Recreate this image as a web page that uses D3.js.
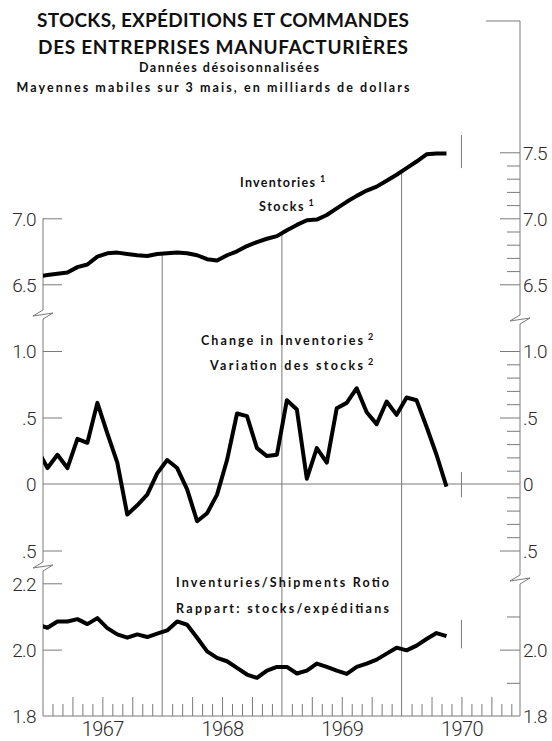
<!DOCTYPE html>
<html><head><meta charset="utf-8">
<script src="https://cdn.jsdelivr.net/npm/d3@7"></script>
<style>
html,body{margin:0;padding:0;background:#fff;}
svg{display:block;}
.tl{font-family:Roboto,"DejaVu Sans Condensed",sans-serif;font-weight:300;font-size:19px;letter-spacing:-0.6px;fill:#2a2a2a;}
.ttl{font-family:Lato,"DejaVu Sans",sans-serif;font-weight:700;fill:#111;}
</style></head>
<body>
<script>
// ---------------- DATA ----------------
const firstMonth = "1966-12";            // first plotted month (clipped at the left axis)
const lastMonth  = "1970-05";
const inventories = [6.56, 6.57, 6.58, 6.59, 6.63, 6.65, 6.71, 6.735, 6.74, 6.73, 6.72, 6.715, 6.73, 6.735, 6.74, 6.735, 6.72, 6.69, 6.68, 6.72, 6.75, 6.79, 6.82, 6.845, 6.865, 6.91, 6.95, 6.985, 6.99, 7.025, 7.075, 7.125, 7.17, 7.21, 7.24, 7.285, 7.33, 7.38, 7.43, 7.485, 7.49, 7.49];
const changeInInventories = [0.26, 0.12, 0.22, 0.12, 0.34, 0.31, 0.61, 0.38, 0.16, -0.23, -0.16, -0.08, 0.08, 0.18, 0.12, -0.04, -0.28, -0.22, -0.08, 0.18, 0.53, 0.51, 0.27, 0.21, 0.22, 0.63, 0.56, 0.04, 0.27, 0.16, 0.57, 0.61, 0.72, 0.54, 0.45, 0.62, 0.52, 0.65, 0.63, 0.43, 0.22, -0.02];
const shipmentsRatio = [2.075, 2.066, 2.085, 2.085, 2.092, 2.077, 2.095, 2.065, 2.046, 2.036, 2.046, 2.038, 2.048, 2.058, 2.085, 2.075, 2.036, 1.995, 1.975, 1.965, 1.945, 1.925, 1.915, 1.937, 1.948, 1.948, 1.928, 1.937, 1.958, 1.948, 1.937, 1.927, 1.948, 1.958, 1.970, 1.988, 2.006, 1.998, 2.012, 2.032, 2.05, 2.041];
const years = [1967, 1968, 1969, 1970];
const invLeftTicks = [6.5, 7.0];
const invRightMajor = [6.5, 7.0, 7.5];
const invRightMinor = [6.6, 6.7, 6.8, 6.9, 7.1, 7.2, 7.3, 7.4];
const chgLeftTicks = [-0.5, 0.5, 1.0];
const chgZeroLabel = [0];
const chgRightMajor = [-0.5, 0.5, 1.0];
const chgRightMinor = [-0.4, -0.3, -0.2, -0.1, 0.1, 0.2, 0.3, 0.4, 0.6, 0.7, 0.8, 0.9];
const ratLeftTicks = [2.0, 2.2];
const ratRightMajor = [2.0];
const ratRightMinor = [1.9, 2.1];
const ratBottomLabel = [1.8];
const markerMonth = "1970-07";
const markerRanges = [[7.38, 7.63], [-0.1, 0.09], [2.004, 2.09]];
const titleLines = ["STOCKS, EXPÉDITIONS ET COMMANDES", "DES ENTREPRISES MANUFACTURIÈRES"];
const subtitleLines = ["Dannées désoisonnalisées", "Mayennes mabiles sur 3 mais, en milliards de dollars"];
const seriesLabels = [
  ["Inventories", "1", "Stocks", "1"],
  ["Change in Inventories", "2", "Variation des stocks", "2"],
  ["Inventuries/Shipments Rotio", "", "Rappart: stocks/expéditians", ""]
];

// ---------------- LAYOUT ----------------
const W = 552, H = 741;
const parseM = d3.timeParse("%Y-%m");
const monthIdx = d => (d.getFullYear() - 1967) * 12 + d.getMonth();
const months = d3.timeMonth.range(parseM(firstMonth), d3.timeMonth.offset(parseM(lastMonth), 1));
const xL = 43, xR = 520, yBottom = 716;
const x = d3.scaleLinear().domain([0, 48]).range([42.5, 521.3]);
const yInv = d3.scaleLinear().domain([6.5, 7.0]).range([284.3, 218.3]);
const yChg = d3.scaleLinear().domain([0, 1.0]).range([484, 351]);
const yRat = d3.scaleLinear().domain([1.8, 2.2]).range([716, 583.3]);

const svg = d3.select("body").append("svg").attr("width", W).attr("height", H);
svg.append("rect").attr("width", W).attr("height", H).attr("fill", "#fff");
svg.append("defs").append("clipPath").attr("id", "plotclip")
  .append("rect").attr("x", xL).attr("y", 0).attr("width", xR - xL).attr("height", H);

const axisColor = "#7a7a7a";

// Titles
const tl = svg.append("g");
[[titleLines[0], 27, 19, 372], [titleLines[1], 54, 19, 370]].forEach(([t, yy, fs, w]) => {
  tl.append("text").attr("class", "ttl").attr("x", 223).attr("y", yy).attr("text-anchor", "middle")
    .attr("font-size", fs).attr("textLength", w).attr("lengthAdjust", "spacing").text(t);
});
[[subtitleLines[0], 72, 12.5, 180, 229], [subtitleLines[1], 92, 12.5, 393, 213]].forEach(([t, yy, fs, w, cx]) => {
  tl.append("text").attr("class", "ttl").attr("x", cx).attr("y", yy).attr("text-anchor", "middle")
    .attr("font-size", fs).attr("textLength", w).attr("lengthAdjust", "spacing").text(t);
});

// Gridlines (from inventory curve down to bottom axis)
const invAt = d3.scaleLinear().domain(months.map(m => monthIdx(m) + 0.5)).range(inventories);
const grid = svg.append("g").attr("stroke", axisColor).attr("stroke-width", 1);
years.slice(1).forEach(yr => {
  const m = (yr - 1967) * 12;
  grid.append("line").attr("x1", x(m)).attr("x2", x(m)).attr("y1", yInv(invAt(m))).attr("y2", yBottom);
});
// zero line
grid.append("line").attr("x1", xL).attr("x2", xR).attr("y1", yChg(0)).attr("y2", yChg(0));
// bottom axis line
grid.append("line").attr("x1", xL).attr("x2", xR).attr("y1", yBottom).attr("y2", yBottom);

// Axis lines with breaks
function brk(ax, c, dir) {
  return `L${ax},${c - 5} L${ax - 10 * dir},${c + 1} L${ax + 10 * dir},${c - 2} L${ax},${c + 4}`;
}
svg.append("path").attr("fill", "none").attr("stroke", axisColor).attr("stroke-width", 1)
  .attr("d", `M${xL},${yInv(7.0)} ${brk(xL, 315, 1)} ${brk(xL, 567, 1)} L${xL},${yBottom}`);
svg.append("path").attr("fill", "none").attr("stroke", axisColor).attr("stroke-width", 1)
  .attr("d", `M486,21 L${xR},21 ${brk(xR, 320, 1)} ${brk(xR, 580, 1)} L${xR},${yBottom}`);

// number format
const fmt = d => {
  if (d === 0) return "0";
  const s = d3.format(".1f")(Math.abs(d));
  return Math.abs(d) < 1 ? s.replace(/^0/, "") : s;
};
function styleAxis(g) {
  g.select(".domain").remove();
  g.selectAll(".tick line").attr("stroke", axisColor).attr("stroke-width", 1);
  g.selectAll(".tick text").attr("class", "tl").attr("fill", null).attr("font-family", null).attr("font-size", null).attr("dy", "0.36em");
}
function leftAxis(scale, vals) {
  svg.append("g").attr("transform", `translate(${xL},0)`)
    .call(d3.axisLeft(scale).tickValues(vals).tickSizeInner(-19).tickSizeOuter(0).tickPadding(7).tickFormat(fmt))
    .call(styleAxis);
}
function leftLabels(scale, vals) {
  svg.append("g").attr("transform", `translate(${xL},0)`)
    .call(d3.axisLeft(scale).tickValues(vals).tickSize(0).tickPadding(7).tickFormat(fmt))
    .call(styleAxis);
}
function rightAxis(scale, major, minor) {
  svg.append("g").attr("transform", `translate(${xR},0)`)
    .call(d3.axisRight(scale).tickValues(major).tickSizeInner(-20).tickSizeOuter(0).tickPadding(3).tickFormat(fmt))
    .call(styleAxis);
  if (minor.length) svg.append("g").attr("transform", `translate(${xR},0)`)
    .call(d3.axisRight(scale).tickValues(minor).tickSizeInner(-13).tickSizeOuter(0).tickFormat(""))
    .call(styleAxis);
}
function rightLabels(scale, vals) {
  svg.append("g").attr("transform", `translate(${xR},0)`)
    .call(d3.axisRight(scale).tickValues(vals).tickSize(0).tickPadding(3).tickFormat(fmt))
    .call(styleAxis);
}
leftAxis(yInv, invLeftTicks);
rightAxis(yInv, invRightMajor, invRightMinor);
leftAxis(yChg, chgLeftTicks);
leftLabels(yChg, chgZeroLabel);
rightAxis(yChg, chgRightMajor, chgRightMinor);
rightLabels(yChg, chgZeroLabel);
leftAxis(yRat, ratLeftTicks);
leftLabels(yRat, ratBottomLabel);
rightAxis(yRat, ratRightMajor, ratRightMinor);
rightLabels(yRat, ratBottomLabel);

// Month ticks on bottom axis
const monthTicks = d3.range(1, 48).filter(m => m % 12 !== 0);
const quarterTicks = monthTicks.filter(m => m % 3 === 0);
const minorMonthTicks = monthTicks.filter(m => m % 3 !== 0);
svg.append("g").attr("transform", `translate(0,${yBottom})`)
  .call(d3.axisBottom(x).tickValues(minorMonthTicks).tickSizeInner(-12).tickSizeOuter(0).tickFormat(""))
  .call(styleAxis);
svg.append("g").attr("transform", `translate(0,${yBottom})`)
  .call(d3.axisBottom(x).tickValues(quarterTicks).tickSizeInner(-19).tickSizeOuter(0).tickFormat(""))
  .call(styleAxis);
// Year labels
const yearAxis = svg.append("g").attr("transform", `translate(0,${yBottom})`)
  .call(d3.axisBottom(x).tickValues(years.map(yr => (yr - 1967) * 12 + 6)).tickSize(0).tickPadding(6)
    .tickFormat((d, i) => String(years[i])));
yearAxis.select(".domain").remove();
yearAxis.selectAll(".tick text").attr("class", "tl").attr("fill", null).attr("font-family", null).attr("font-size", null).style("font-size", "20px");

// Markers
const mx = x(monthIdx(parseM(markerMonth)));
[yInv, yChg, yRat].forEach((sc, i) => {
  svg.append("line").attr("x1", mx).attr("x2", mx)
    .attr("y1", sc(markerRanges[i][0])).attr("y2", sc(markerRanges[i][1]))
    .attr("stroke", axisColor).attr("stroke-width", 1);
});

// Series lines
const plot = svg.append("g").attr("clip-path", "url(#plotclip)");
[[inventories, yInv], [changeInInventories, yChg], [shipmentsRatio, yRat]].forEach(([vals, sc]) => {
  const line = d3.line().x((d, i) => x(monthIdx(months[i]) + 0.5)).y(d => sc(d));
  plot.append("path").datum(vals).attr("d", line).attr("fill", "none")
    .attr("stroke", "#000").attr("stroke-width", 4).attr("stroke-linejoin", "round");
});

// Series labels
const labelPos = [
  [[240, 187, 75], [259, 211, 44.5]],
  [[201, 345, 162], [210, 370, 153]],
  [[176, 587, 213], [176, 613, 213]]
];
seriesLabels.forEach((lab, k) => {
  [[lab[0], lab[1]], [lab[2], lab[3]]].forEach(([txt, sup], j) => {
    const [lx, ly, lw] = labelPos[k][j];
    svg.append("text").attr("class", "ttl").attr("x", lx).attr("y", ly).attr("font-size", 12.5)
      .attr("textLength", lw).attr("lengthAdjust", "spacing").text(txt);
    if (sup) svg.append("text").attr("class", "ttl").attr("x", lx + lw + 5).attr("y", ly - 5)
      .attr("font-size", 9).text(sup);
  });
});
</script>
</body></html>
